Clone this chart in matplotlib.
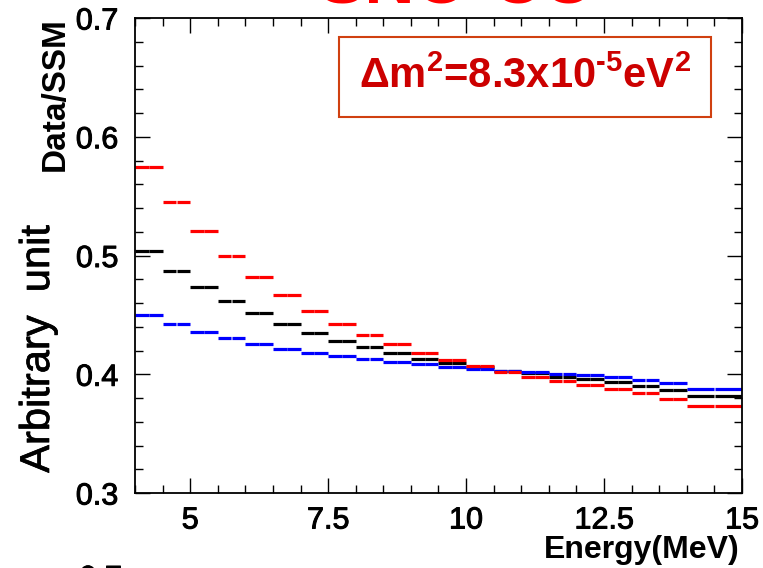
import numpy as np
import matplotlib.pyplot as plt
import matplotlib.patheffects as pe
from matplotlib.ticker import MultipleLocator

plt.rcParams['font.family'] = ['Liberation Sans', 'DejaVu Sans']
plt.rcParams['mathtext.fontset'] = 'custom'
plt.rcParams['mathtext.rm'] = 'Liberation Sans:bold'
plt.rcParams['mathtext.bf'] = 'Liberation Sans:bold'

# bin edges (MeV): 0.5 MeV bins from 4 to 14, then one 14-15 bin
edges = [4.0, 4.5, 5.0, 5.5, 6.0, 6.5, 7.0, 7.5, 8.0, 8.5, 9.0, 9.5,
         10.0, 10.5, 11.0, 11.5, 12.0, 12.5, 13.0, 13.5, 14.0, 15.0]

# Data/SSM per bin
red_vals = [0.5745, 0.545, 0.5206, 0.4996, 0.4816, 0.4667, 0.4535, 0.4426,
            0.433, 0.4252, 0.4179, 0.412, 0.4072, 0.4022, 0.398, 0.3943,
            0.3907, 0.3873, 0.384, 0.3794, 0.3735]
black_vals = [0.5035, 0.4872, 0.4732, 0.4614, 0.4513, 0.4426, 0.435, 0.4283,
              0.4227, 0.4176, 0.4131, 0.4092, 0.406, 0.4027, 0.4008, 0.398,
              0.396, 0.3932, 0.3904, 0.3867, 0.3817]
blue_vals = [0.4496, 0.4421, 0.4358, 0.4305, 0.4257, 0.4215, 0.4182, 0.4151,
             0.4126, 0.41, 0.4083, 0.4064, 0.4044, 0.403, 0.4016, 0.4002,
             0.3991, 0.3974, 0.3952, 0.3926, 0.3878]

fig = plt.figure(figsize=(7.63, 5.68), dpi=100)
ax = fig.add_axes([0.1769, 0.132, 0.7956, 0.8363])

lo = np.array(edges[:-1])
hi = np.array(edges[1:])
mid = (lo + hi) / 2
# draw each bin as two half error bars, like ROOT does
for vals, col in [(black_vals, 'black'), (blue_vals, '#0000ff'), (red_vals, '#ff0000')]:
    ax.hlines(vals, lo, mid - 0.003, colors=col, lw=2.3)
    ax.hlines(vals, mid + 0.003, hi, colors=col, lw=2.3)

ax.set_xlim(4, 15)
ax.set_ylim(0.3, 0.7)
ax.xaxis.set_minor_locator(MultipleLocator(0.5))
ax.yaxis.set_minor_locator(MultipleLocator(0.02))
ax.set_xticks([5, 7.5, 10, 12.5, 15])
ax.set_xticklabels(['5', '7.5', '10', '12.5', '15'])
ax.set_yticks([0.3, 0.4, 0.5, 0.6, 0.7])
ax.set_yticklabels(['0.3', '0.4', '0.5', '0.6', '0.7'])
ax.tick_params(which='both', direction='in', top=True, right=True, width=1.0)
ax.tick_params(which='major', length=11, labelsize=22)
ax.tick_params(which='minor', length=6)
ax.tick_params(axis='y', pad=12)
ax.tick_params(axis='x', pad=9)
for s in ax.spines.values():
    s.set_linewidth(1.3)

# slightly heavier labels, like the ROOT rendering
heavy = [pe.withStroke(linewidth=0.7, foreground='black')]
for lab in ax.get_xticklabels() + ax.get_yticklabels():
    lab.set_path_effects(heavy)

# box with the mass splitting
ax.text(0.643, 0.876,
        'Δm$^{2}$=8.3x10$^{\\text{-}5}$eV$^{2}$',
        transform=ax.transAxes, ha='center', va='center', fontsize=30,
        fontweight='bold', color='#cc0000',
        bbox=dict(boxstyle='square,pad=0.48', fc='white', ec='#d04010', lw=1.5))

# titles and labels around the frame
fig.text(456 / 763, 1 - 3 / 568, 'SNO-CC', ha='center', va='baseline',
         fontsize=50, fontweight='bold', color='#ff0000')
fig.text(55 / 763, 1 - 94 / 568, 'Data/SSM', rotation=90, ha='center', va='center',
         fontsize=24, fontweight='bold')
fig.text(38 / 763, 1 - 349 / 568, 'Arbitrary  unit', rotation=90, ha='center', va='center',
         fontsize=30, path_effects=[pe.withStroke(linewidth=0.5, foreground='black')])
fig.text(740 / 763, 1 - 558 / 568, 'Energy(MeV)', ha='right', va='baseline',
         fontsize=23, fontweight='bold')
# tick label of the panel below, cut by the edge
fig.text(122 / 763, 1 - 564 / 568, '0.7', ha='right', va='top', fontsize=22,
         path_effects=heavy)

fig.savefig('out.png', dpi=100)
